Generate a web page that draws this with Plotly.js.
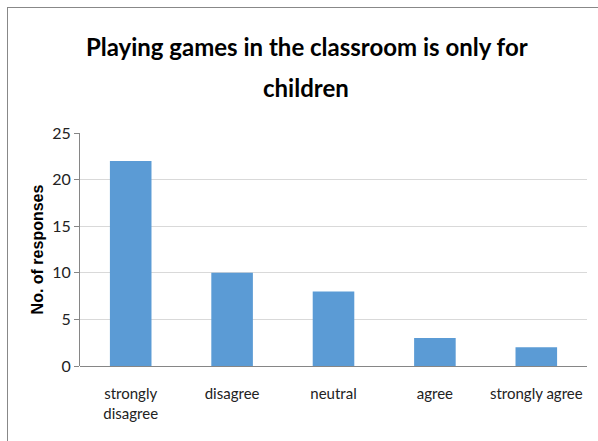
<!DOCTYPE html>
<html>
<head>
<meta charset="utf-8">
<script src="https://cdn.plot.ly/plotly-3.0.1.min.js"></script>
<style>
  html, body { margin: 0; padding: 0; background: #fff; }
  #wrap { position: relative; width: 598px; height: 441px; }
  #chart { position: absolute; left: 0; top: 0; width: 598px; height: 441px; }
  #frame { position: absolute; left: 7px; top: 7px; width: 591px; height: 434px;
           border-left: 1px solid #888; border-top: 1px solid #888; pointer-events: none; }
</style>
</head>
<body>
<div id="wrap">
  <div id="chart"></div>
  <div id="frame"></div>
</div>
<script>
const categories = ["strongly<br>disagree", "disagree", "neutral", "agree", "strongly agree"];
const responses = [22, 10, 8, 3, 2];
const yTicks = [0, 5, 10, 15, 20, 25];
const titleLine1 = "Playing games in the classroom is only for";
const titleLine2 = "children";

const font = "Lato, sans-serif";

Plotly.newPlot('chart', [{
  type: 'bar',
  x: categories,
  y: responses,
  marker: { color: '#5B9BD5' },
  width: 0.41,
  hoverinfo: 'x+y'
}], {
  width: 598, height: 441,
  margin: { l: 80, r: 11, t: 133, b: 75 },
  paper_bgcolor: '#ffffff', plot_bgcolor: '#ffffff',
  title: {
    text: '<b>' + titleLine1 + '</b>',
    font: { family: font, size: 24, color: '#000' },
    x: 0.513, xanchor: 'center',
    y: 0.891, yref: 'container', yanchor: 'middle'
  },
  annotations: [{
    text: '<b>' + titleLine2 + '</b>',
    font: { family: font, size: 24, color: '#000' },
    xref: 'paper', yref: 'paper', x: 0.446, y: 1.197,
    xanchor: 'center', yanchor: 'middle', showarrow: false
  }],
  xaxis: {
    type: 'category',
    tickfont: { family: font, size: 15, color: '#222' },
    showline: false, ticks: '', showgrid: false,
    zeroline: false, ticklabelstandoff: 17
  },
  yaxis: {
    range: [0, 25], tickvals: yTicks, ticktext: yTicks.map(String),
    tickfont: { family: font, size: 16, color: '#222' },
    showgrid: true, gridcolor: '#D9D9D9', gridwidth: 1,
    showline: true, linecolor: '#868686', linewidth: 1,
    ticks: 'outside', ticklen: 5, tickcolor: '#868686',
    zeroline: true, zerolinecolor: '#868686', zerolinewidth: 1,
    title: { text: '<b>No. of responses</b>', font: { family: 'Liberation Sans, Arial, sans-serif', size: 16, color: '#000' }, standoff: 4 }
  },
  showlegend: false
}, { displayModeBar: false, staticPlot: true });
</script>
</body>
</html>
